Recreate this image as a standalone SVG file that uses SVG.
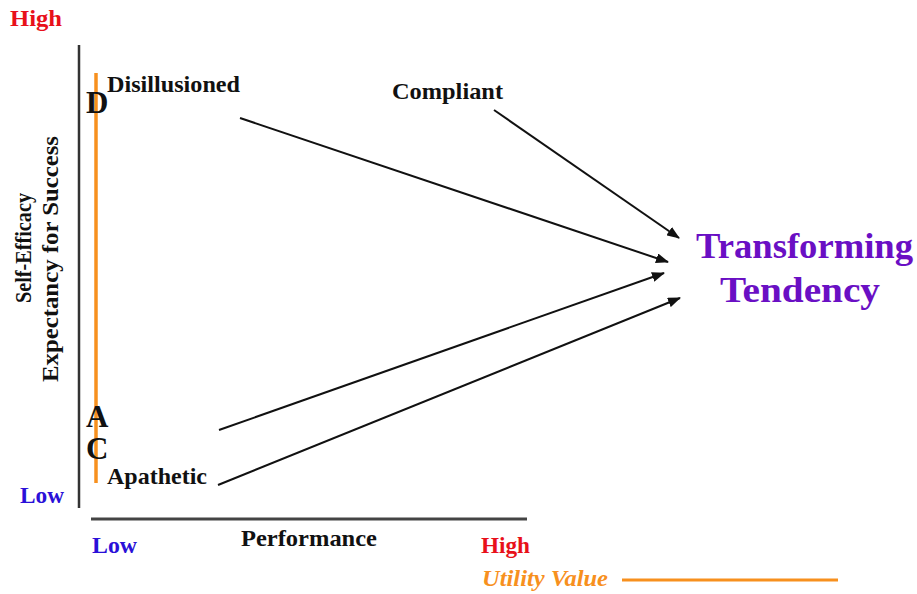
<svg xmlns="http://www.w3.org/2000/svg" width="917" height="594" viewBox="0 0 917 594">
<style>
text{font-family:"Liberation Serif","Times New Roman",serif;font-weight:bold}
.lbl{font-size:24px;fill:#111}
.big{font-size:31px;fill:#111}
.red{font-size:24px;fill:#e8101a}
.blue{font-size:24px;fill:#2a10d8}
.pur{font-size:36px;fill:#6a0fc4}
.conn{stroke:#111;stroke-width:2;fill:none;marker-end:url(#ah)}
</style>
<defs>
<marker id="ah" viewBox="0 0 13 10" refX="12" refY="5" markerWidth="13" markerHeight="10" markerUnits="userSpaceOnUse" orient="auto">
<path d="M0,0 L13,5 L0,10 z" fill="#111"/>
</marker>
</defs>
<rect width="917" height="594" fill="#fff"/>
<g id="axes">
<line x1="79" y1="45" x2="79" y2="508" stroke="#333" stroke-width="2.5"/>
<line x1="91" y1="519" x2="527" y2="519" stroke="#444" stroke-width="3"/>
<line x1="96" y1="73" x2="96" y2="483" stroke="#f7901e" stroke-width="3.5"/>
<line x1="622" y1="580" x2="838" y2="580" stroke="#f7901e" stroke-width="3"/>
</g>
<g id="axis-labels">
<text class="red" x="10" y="26" textLength="52" lengthAdjust="spacingAndGlyphs">High</text>
<text class="blue" x="20" y="503" textLength="44" lengthAdjust="spacingAndGlyphs">Low</text>
<text class="blue" x="92" y="553" textLength="45" lengthAdjust="spacingAndGlyphs">Low</text>
<text class="red" x="481" y="553" textLength="49" lengthAdjust="spacingAndGlyphs">High</text>
<text class="lbl" x="241" y="546" textLength="136" lengthAdjust="spacingAndGlyphs">Performance</text>
<text x="482" y="586" textLength="126" lengthAdjust="spacingAndGlyphs" style="font-size:24px;font-style:italic;fill:#f7901e">Utility Value</text>
<text class="lbl" transform="translate(31,248) rotate(-90)" text-anchor="middle" textLength="110" lengthAdjust="spacingAndGlyphs">Self-Efficacy</text>
<text class="lbl" transform="translate(58,259) rotate(-90)" text-anchor="middle" textLength="246" lengthAdjust="spacingAndGlyphs">Expectancy for Success</text>
</g>
<g id="node-D">
<text class="big" x="86" y="113">D</text>
<text class="lbl" x="107" y="92" textLength="133" lengthAdjust="spacingAndGlyphs">Disillusioned</text>
</g>
<g id="node-compliant">
<text class="lbl" x="392" y="99" textLength="111" lengthAdjust="spacingAndGlyphs">Compliant</text>
</g>
<g id="node-A"><text class="big" x="86" y="427">A</text></g>
<g id="node-C">
<text class="big" x="86" y="459">C</text>
<text class="lbl" x="107" y="484" textLength="100" lengthAdjust="spacingAndGlyphs">Apathetic</text>
</g>
<g id="node-transforming">
<text class="pur" x="696" y="258" textLength="217" lengthAdjust="spacingAndGlyphs">Transforming</text>
<text class="pur" x="720" y="302" textLength="160" lengthAdjust="spacingAndGlyphs">Tendency</text>
</g>
<g id="connectors">
<line class="conn" x1="240" y1="118" x2="668" y2="262"/>
<line class="conn" x1="494" y1="110" x2="679" y2="238"/>
<line class="conn" x1="219" y1="430" x2="664" y2="273"/>
<line class="conn" x1="218" y1="485" x2="680" y2="298"/>
</g>
</svg>
